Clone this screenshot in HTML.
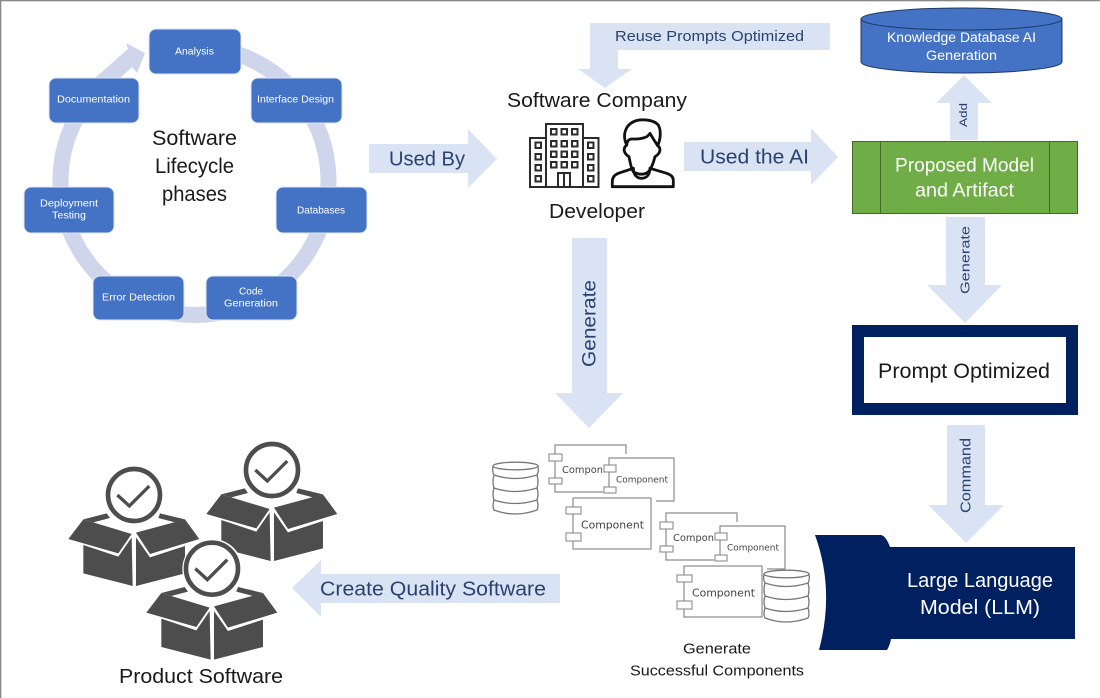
<!DOCTYPE html>
<html><head><meta charset="utf-8"><style>
html,body{margin:0;padding:0;background:#fff}
svg{display:block;filter:blur(.35px)}
text{font-family:"Liberation Sans",sans-serif;dominant-baseline:central;text-anchor:start}
text:not([transform]){transform:translateY(.7px)}
.w{fill:#fff}.k{fill:#1a1a1a}.b{fill:#2a4270}
.a{fill:#dae3f3}
.c{fill:none;stroke:#8c8c8c;stroke-width:1.2}
.p{fill:#fff;stroke:#8c8c8c;stroke-width:1.1}
.t{font-family:"DejaVu Sans",sans-serif;fill:#444}
.n{fill:#4472c4;stroke:#dfe6f5;stroke-width:1}
.i{fill:none;stroke:#2b2b2b;stroke-width:2}
.db{fill:#fff;stroke:#777;stroke-width:1.3}
</style></head><body>
<svg width="1100" height="698" viewBox="0 0 1100 698" xmlns="http://www.w3.org/2000/svg">
<rect width="1100" height="698" fill="#fff"/>
<rect width="1100" height="1.3" fill="#888"/><rect width="1.3" height="698" fill="#888"/>

<!-- lifecycle ring -->
<path d="M195 47A134 134 0 1 1 110 77" fill="none" stroke="#cfd5ea" stroke-width="16"/>
<polygon points="126,43 145,53 137,73 132,67 120,78 95,78 128,49" fill="#cfd5ea"/>
<rect class="n" x="149" y="29" width="92" height="45" rx="7"/>
<rect class="n" x="251" y="78" width="91" height="45" rx="7"/>
<rect class="n" x="276" y="187" width="91" height="46" rx="7"/>
<rect class="n" x="206" y="276" width="91" height="44" rx="7"/>
<rect class="n" x="93" y="276" width="91" height="44" rx="7"/>
<rect class="n" x="24" y="187" width="90" height="46" rx="7"/>
<rect class="n" x="49" y="78" width="90" height="45" rx="7"/>
<g class="w" font-size="10.5">
<text x="175" y="51" textLength="39" lengthAdjust="spacingAndGlyphs">Analysis</text>
<text x="257" y="99" textLength="77" lengthAdjust="spacingAndGlyphs">Interface Design</text>
<text x="57" y="99" textLength="73" lengthAdjust="spacingAndGlyphs">Documentation</text>
<text x="297" y="210" textLength="48" lengthAdjust="spacingAndGlyphs">Databases</text>
<text x="40" y="203" textLength="58" lengthAdjust="spacingAndGlyphs">Deployment</text>
<text x="52" y="215" textLength="34" lengthAdjust="spacingAndGlyphs">Testing</text>
<text x="239" y="291" textLength="24" lengthAdjust="spacingAndGlyphs">Code</text>
<text x="224" y="303" textLength="54" lengthAdjust="spacingAndGlyphs">Generation</text>
<text x="102" y="297" textLength="73" lengthAdjust="spacingAndGlyphs">Error Detection</text>
</g>
<g class="k" font-size="21">
<text x="152" y="138" textLength="85" lengthAdjust="spacingAndGlyphs">Software</text>
<text x="155" y="166" textLength="79" lengthAdjust="spacingAndGlyphs">Lifecycle</text>
<text x="162" y="194" textLength="65" lengthAdjust="spacingAndGlyphs">phases</text>
</g>

<!-- arrows -->
<polygon class="a" points="369,144 468,144 468,129 497,159 468,188 468,173 369,173"/>
<polygon class="a" points="684,142 811,142 811,128 838,157 811,185 811,171 684,171"/>
<polygon class="a" points="590,23 830,23 830,50 618,50 618,69 632,69 605,88 578,69 590,69"/>
<polygon class="a" points="950,140 950,103 936,103 964,75 992,103 978,103 978,140"/>
<polygon class="a" points="946,217 985,217 985,285 1002,285 965,323 927,285 946,285"/>
<polygon class="a" points="947,425 985,425 985,505 1004,505 966,543 928,505 947,505"/>
<polygon class="a" points="572,238 607,238 607,393 623,393 589,428 555,393 572,393"/>
<polygon class="a" points="560,574 321,574 321,560 292,588 321,617 321,603 560,603"/>
<g class="b">
<text x="389" y="159" font-size="20" textLength="76" lengthAdjust="spacingAndGlyphs">Used By</text>
<text x="700" y="157" font-size="20" textLength="109" lengthAdjust="spacingAndGlyphs">Used the AI</text>
<text x="615" y="36" font-size="15" textLength="189" lengthAdjust="spacingAndGlyphs">Reuse Prompts Optimized</text>
<text x="320" y="589" font-size="20" textLength="226" lengthAdjust="spacingAndGlyphs">Create Quality Software</text>
<text transform="translate(964 127) rotate(-90)" font-size="11" textLength="24" lengthAdjust="spacingAndGlyphs">Add</text>
<text transform="translate(965 294) rotate(-90)" font-size="13" textLength="68" lengthAdjust="spacingAndGlyphs">Generate</text>
<text transform="translate(590 367) rotate(-90)" font-size="19" textLength="87" lengthAdjust="spacingAndGlyphs">Generate</text>
<text transform="translate(966 513) rotate(-90)" font-size="15" textLength="75" lengthAdjust="spacingAndGlyphs">Command</text>
</g>

<!-- cylinder -->
<path d="M861 19V62A100.500 11 0 0 0 1062 62V19Z" fill="#4472c4" stroke="#1f3864" stroke-width="1"/>
<ellipse cx="961.500" cy="19" rx="100.500" ry="11" fill="#4472c4" stroke="#1f3864" stroke-width="1"/>
<g class="w" font-size="13.500">
<text x="887" y="37" textLength="149" lengthAdjust="spacingAndGlyphs">Knowledge Database AI</text>
<text x="926" y="55" textLength="71" lengthAdjust="spacingAndGlyphs">Generation</text>
</g>

<!-- green -->
<rect x="852.500" y="141.500" width="225" height="72" fill="#70ad47" stroke="#3f6b26" stroke-width="1"/>
<path d="M880.500 142V213M1049.500 142V213" stroke="#3f6b26" stroke-width="1"/>
<g class="w" font-size="19.500">
<text x="895" y="165" textLength="139" lengthAdjust="spacingAndGlyphs">Proposed Model</text>
<text x="915" y="190" textLength="99" lengthAdjust="spacingAndGlyphs">and Artifact</text>
</g>

<!-- prompt -->
<rect x="852" y="325" width="226" height="90" fill="#002060"/>
<rect x="864" y="337" width="202" height="66" fill="#fff"/>
<text class="k" x="878" y="371" font-size="21" textLength="172" lengthAdjust="spacingAndGlyphs">Prompt Optimized</text>

<!-- LLM -->
<path d="M815 535H881Q886 536 890 547H1075V639H891Q890 645 887 650H819Q835 590 815 535Z" fill="#002060"/>
<g class="w" font-size="20.500">
<text x="907" y="580" textLength="146" lengthAdjust="spacingAndGlyphs">Large Language</text>
<text x="920" y="607" textLength="120" lengthAdjust="spacingAndGlyphs">Model (LLM)</text>
</g>

<!-- components -->
<defs>
<g id="comps">
<path class="c" d="M626 454V445H555V492H603"/>
<rect class="p" x="549" y="454" width="13" height="7"/>
<rect class="p" x="549" y="478" width="13" height="6"/>
<text class="t" x="562" y="470" font-size="9.500" textLength="41" lengthAdjust="spacingAndGlyphs">Compon</text>
<path class="c" d="M656 501H674V458H609V487"/>
<rect class="p" x="604" y="465" width="12" height="7"/>
<rect class="p" x="604" y="487" width="12" height="6"/>
<text class="t" x="616" y="480" font-size="8.500" textLength="52" lengthAdjust="spacingAndGlyphs">Component</text>
<rect class="c" x="573" y="498" width="78" height="51"/>
<rect class="p" x="566" y="507" width="15" height="7"/>
<rect class="p" x="566" y="533" width="15" height="8"/>
<text class="t" x="581" y="525" font-size="10.500" textLength="63" lengthAdjust="spacingAndGlyphs">Component</text>
</g>
<g id="db">
<path class="db" d="M1 38Q-1 44 1 48Q22 56 44 48Q46 44 44 38Z"/>
<path class="db" d="M1 26Q-1 32 1 38Q22 45 44 38Q46 32 44 26Z"/>
<path class="db" d="M1 13Q-1 20 1 26Q22 33 44 26Q46 20 44 13Z"/>
<path class="db" d="M0 4Q-1 10 1 13Q22 20 44 13Q46 10 45 4Z"/>
<ellipse cx="22.500" cy="4" rx="22.500" ry="3.800" fill="#fff" stroke="#777" stroke-width="1.300"/>
</g>
<g id="box">
<polygon points="55,327 100,268 245,312 205,370" fill="#4d4d4d"/>
<polygon points="258,308 405,268 448,327 300,372" fill="#4d4d4d"/>
<polygon points="100,345 205,380 245,322 248,468 100,430" fill="#4d4d4d"/>
<polygon points="258,322 300,382 405,348 405,430 258,468" fill="#4d4d4d"/>
<polygon points="100,268 170,250 180,264 130,277" fill="#4d4d4d"/>
<polygon points="330,250 405,268 375,277 325,264" fill="#4d4d4d"/>
<circle cx="252" cy="195" r="78" fill="#fff" stroke="#4d4d4d" stroke-width="14"/>
<path d="M202 195L238 228L298 168" fill="none" stroke="#4d4d4d" stroke-width="10"/>
</g>
</defs>
<use href="#comps"/>
<use href="#comps" transform="translate(111 68)"/>
<use href="#db" x="493" y="462"/>
<use href="#db" x="764" y="570"/>
<g class="k" font-size="14.500">
<text x="683" y="649" textLength="68" lengthAdjust="spacingAndGlyphs">Generate</text>
<text x="630" y="671" textLength="174" lengthAdjust="spacingAndGlyphs">Successful Components</text>
</g>

<!-- boxes -->
<g transform="translate(50 430) scale(.3333)">
<use href="#box"/>
<use href="#box" transform="translate(414 -75)"/>
<circle cx="487" cy="417" r="90" fill="#fff"/>
<use href="#box" transform="translate(234 221)"/>
</g>
<text class="k" x="119" y="676" font-size="20.500" textLength="164" lengthAdjust="spacingAndGlyphs">Product Software</text>

<!-- company icons -->
<text class="k" x="507" y="100" font-size="20.500" textLength="180" lengthAdjust="spacingAndGlyphs">Software Company</text>
<text class="k" x="549" y="211" font-size="20.500" textLength="96" lengthAdjust="spacingAndGlyphs">Developer</text>
<g class="i">
<rect x="546" y="124" width="37" height="63"/>
<path d="M546 138H530V187H546M583 138H598.500V187H583"/>
<path d="M558 187V173H570V187M564 173V187"/>
<rect x="551" y="129" width="5.500" height="5.500"/><rect x="561.500" y="129" width="5.500" height="5.500"/><rect x="572" y="129" width="5.500" height="5.500"/>
<rect x="551" y="141" width="5.500" height="5.500"/><rect x="561.500" y="141" width="5.500" height="5.500"/><rect x="572" y="141" width="5.500" height="5.500"/>
<rect x="551" y="151.500" width="5.500" height="5.500"/><rect x="561.500" y="151.500" width="5.500" height="5.500"/><rect x="572" y="151.500" width="5.500" height="5.500"/>
<rect x="551" y="162" width="5.500" height="5.500"/><rect x="561.500" y="162" width="5.500" height="5.500"/><rect x="572" y="162" width="5.500" height="5.500"/>
<rect x="535.500" y="142.500" width="5.500" height="5.500"/><rect x="535.500" y="154" width="5.500" height="5.500"/><rect x="535.500" y="165" width="5.500" height="5.500"/><rect x="535.500" y="176" width="5.500" height="5.500"/>
<rect x="588" y="142.500" width="5.500" height="5.500"/><rect x="588" y="154" width="5.500" height="5.500"/><rect x="588" y="165" width="5.500" height="5.500"/><rect x="588" y="176" width="5.500" height="5.500"/>
</g>
<g fill="none" stroke="#111" stroke-width="2.800" stroke-linejoin="round" stroke-linecap="round">
<path d="M626.700 145C622 135 625 124 636.700 120.500C644 119 654 120 658.300 125C661 130 661 138 657.700 145.700C661 148 661 153 655 156.700C653 165 650 170 648.300 171.700C645 175 638 175 633.300 171.700C631 168 630 162 629 156.700C623 153 623 148 626.700 145Z"/>
<path d="M626.700 145C627 141 629 139 632 139C637 139 642 139 646.700 136.700C648 136 649 134.500 650 133.300C652 137 654 140 657.700 145.700"/>
<path d="M633.300 168.300C633.500 174 636 178.300 641.700 178.300C647 178.300 650 174 650 168.300"/>
<path d="M633.300 168.300L618.300 173.300C614 175 612.300 178 612.300 181.700V186.700H673.300V180C673 176 670 174.500 666.700 173.300L650 168.300"/>
</g>
</svg>
</body></html>
